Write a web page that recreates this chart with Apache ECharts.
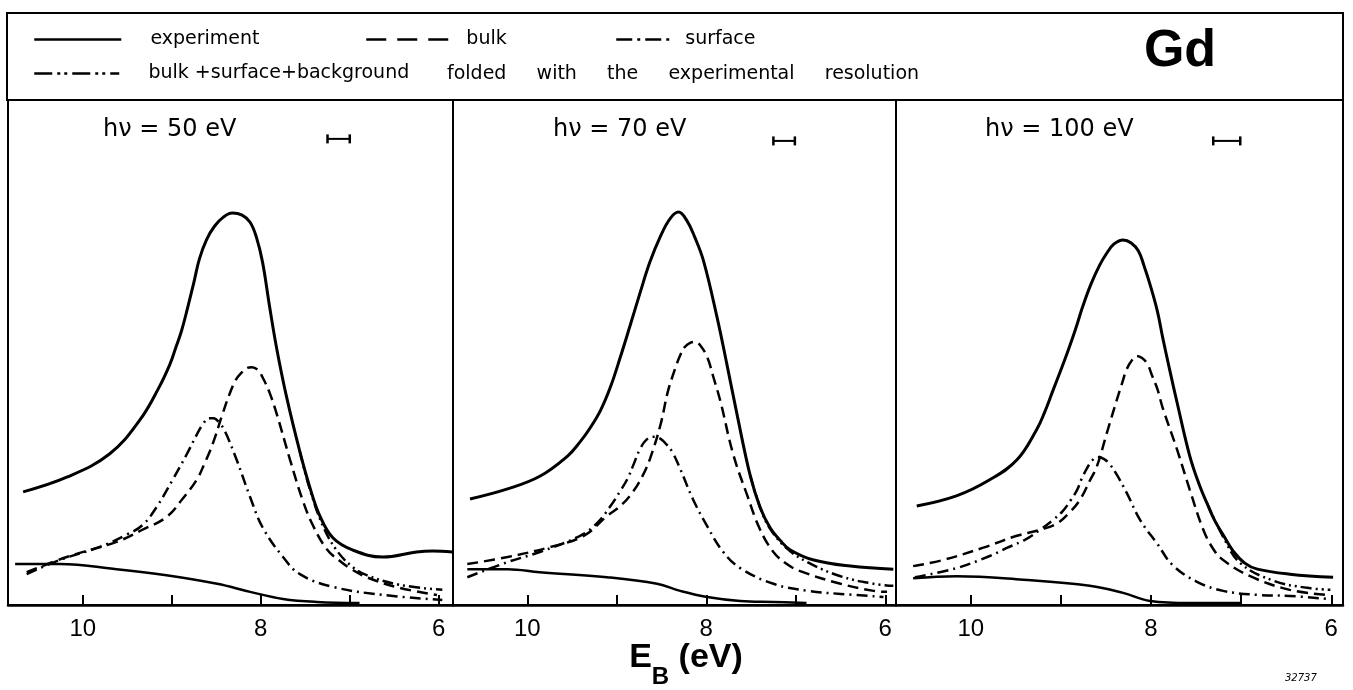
<!DOCTYPE html>
<html>
<head>
<meta charset="utf-8">
<script src="https://cdn.jsdelivr.net/npm/echarts@6/dist/echarts.min.js"></script>
<style>
  html, body { margin: 0; background: #fff; }
  #chart { width: 1353px; height: 690px; }
</style>
</head>
<body>
<div id="chart"></div>
<script>
// binding energy (eV) vs intensity (0 = axis, 100 = top of panel)
const photonLabels = ["h\u03bd = 50 eV", "h\u03bd = 70 eV", "h\u03bd = 100 eV"];
const tickMarks = [10, 9, 8, 7, 6];
const tickLabels = [10, 8, 6];

const exp50 = [[10.67,22.4],[10.18,25.3],[9.70,29.9],[9.36,36.6],[9.14,43.2],[9.02,47.7],[8.96,50.7],[8.89,54.3],[8.82,59.0],[8.75,64.0],[8.69,68.5],[8.61,72.3],[8.52,75.0],[8.42,76.8],[8.32,77.6],[8.21,77.2],[8.12,75.8],[8.05,72.9],[7.98,67.9],[7.90,59.0],[7.82,50.7],[7.71,41.2],[7.56,30.3],[7.45,23.4],[7.34,17.8],[7.19,13.3],[6.97,10.9],[6.63,9.5],[6.25,10.5],[6.07,10.7],[5.85,10.5]];
const bulk50 = [[10.63,6.5],[10.18,9.5],[9.62,12.5],[9.33,14.9],[9.06,17.4],[8.88,21.0],[8.72,24.8],[8.63,28.1],[8.54,31.9],[8.43,37.8],[8.35,41.8],[8.28,44.6],[8.21,46.1],[8.16,46.9],[8.10,47.1],[8.03,46.5],[7.98,45.1],[7.90,42.0],[7.82,37.8],[7.67,28.7],[7.53,20.8],[7.42,16.0],[7.26,11.1],[7.11,8.7],[7.00,7.3],[6.81,5.5],[6.44,3.4],[6.02,2.0]];
const surf50 = [[10.63,6.1],[10.26,8.9],[9.81,11.5],[9.51,13.9],[9.33,15.8],[9.17,19.4],[8.99,24.8],[8.83,29.9],[8.72,33.7],[8.65,35.8],[8.58,37.0],[8.53,37.0],[8.47,36.2],[8.40,34.3],[8.27,28.7],[8.12,21.4],[7.98,15.4],[7.75,9.5],[7.56,6.1],[7.19,3.6],[6.63,2.0],[5.96,1.0]];
const total50 = [[7.56,30.3],[7.45,23.0],[7.30,15.6],[7.15,10.9],[6.98,7.7],[6.81,5.9],[6.44,4.0],[5.96,3.0]];
const bg50 = [[10.76,8.1],[10.26,8.1],[9.62,7.1],[9.06,5.9],[8.49,4.2],[8.12,2.6],[7.75,1.2],[7.37,0.6],[6.89,0.4]];
const res50 = [[7.25,92.3],[7.00,92.3]];

const exp70 = [[10.64,21.0],[10.22,23.0],[9.86,25.5],[9.55,29.5],[9.41,32.3],[9.30,35.0],[9.18,38.6],[9.07,43.2],[8.96,49.1],[8.85,55.4],[8.74,61.8],[8.63,67.9],[8.51,73.1],[8.40,76.6],[8.31,77.8],[8.22,76.2],[8.13,72.9],[8.03,68.1],[7.88,57.0],[7.77,47.7],[7.65,37.2],[7.51,25.7],[7.40,19.4],[7.29,15.4],[7.17,12.7],[7.06,10.9],[6.80,8.9],[6.39,7.7],[5.91,7.1]];
const bulk70 = [[10.67,8.1],[10.22,9.5],[9.74,11.5],[9.37,13.7],[9.11,17.6],[8.96,19.6],[8.82,22.4],[8.72,25.3],[8.63,28.9],[8.51,35.8],[8.43,42.2],[8.35,46.7],[8.29,49.5],[8.24,51.1],[8.18,51.9],[8.12,52.1],[8.07,51.5],[7.99,49.1],[7.92,45.1],[7.84,40.2],[7.70,29.9],[7.54,21.6],[7.40,15.0],[7.25,10.5],[7.10,8.1],[6.95,6.7],[6.50,4.2],[6.13,2.8],[5.98,2.6]];
const surf70 = [[10.67,5.5],[10.22,8.5],[9.86,10.5],[9.41,13.7],[9.22,16.2],[9.07,19.6],[8.96,22.6],[8.88,25.0],[8.82,27.5],[8.74,30.9],[8.67,32.7],[8.59,33.3],[8.51,32.9],[8.45,31.9],[8.38,30.3],[8.29,26.9],[8.15,21.0],[7.99,15.6],[7.81,10.5],[7.62,7.3],[7.25,4.2],[6.87,2.8],[6.50,2.2],[6.02,1.6]];
const total70 = [[7.51,25.7],[7.40,19.4],[7.29,15.2],[7.10,11.2],[6.87,8.5],[6.50,5.7],[6.13,4.2],[5.91,3.8]];
const bg70 = [[10.67,7.1],[10.22,7.1],[9.86,6.5],[9.11,5.5],[8.55,4.2],[8.29,2.8],[7.99,1.6],[7.62,0.8],[7.25,0.6],[6.88,0.4]];
const res70 = [[7.25,91.9],[7.01,91.9]];

const exp100 = [[10.60,19.6],[10.16,21.6],[9.79,24.8],[9.49,28.7],[9.27,34.7],[9.18,38.2],[9.09,42.4],[9.01,46.1],[8.93,49.9],[8.84,54.5],[8.76,59.0],[8.67,63.4],[8.57,67.3],[8.49,69.7],[8.41,71.5],[8.31,72.3],[8.22,71.7],[8.14,70.1],[8.08,67.3],[8.01,63.4],[7.93,58.2],[7.87,52.9],[7.79,46.3],[7.71,40.0],[7.57,29.5],[7.46,23.6],[7.38,20.2],[7.29,16.6],[7.20,13.9],[7.09,10.7],[6.96,8.3],[6.82,7.1],[6.46,6.1],[5.98,5.5]];
const bulk100 = [[10.64,7.7],[10.31,8.9],[9.87,11.3],[9.49,13.7],[9.23,14.9],[9.04,16.2],[8.90,18.4],[8.79,20.8],[8.68,24.6],[8.60,27.5],[8.49,34.1],[8.38,40.6],[8.32,44.0],[8.27,46.7],[8.21,48.5],[8.16,49.3],[8.10,48.9],[8.04,47.7],[7.99,45.5],[7.93,42.8],[7.87,39.0],[7.71,30.7],[7.57,22.8],[7.42,14.9],[7.31,11.1],[7.20,8.9],[6.90,5.7],[6.46,3.0],[6.04,2.0]];
const surf100 = [[10.62,5.5],[10.16,7.3],[9.79,9.7],[9.60,11.3],[9.40,12.9],[9.23,14.9],[9.09,16.8],[8.98,18.6],[8.89,20.8],[8.82,22.8],[8.77,25.0],[8.71,27.1],[8.66,28.5],[8.59,29.3],[8.52,28.9],[8.46,27.9],[8.39,26.1],[8.27,22.2],[8.12,16.8],[7.93,12.1],[7.76,7.9],[7.49,4.6],[7.20,2.8],[6.82,2.0],[6.46,1.8],[6.04,1.2]];
const total100 = [[7.38,20.2],[7.20,13.5],[7.01,8.3],[6.64,4.8],[6.27,3.4],[6.01,3.0]];
const bg100 = [[10.64,5.3],[10.16,5.7],[9.42,5.0],[8.68,3.8],[8.31,2.4],[8.01,0.8],[7.57,0.4],[7.01,0.4]];
const res100 = [[7.31,91.9],[7.01,91.9]];

const panels = [
  { label: photonLabels[0], min: 5.84, max: 10.84, left: 8, width: 445, labelX: 103, exp: exp50, bulk: bulk50, surf: surf50, total: total50, bg: bg50, res: res50 },
  { label: photonLabels[1], min: 5.88, max: 10.83, left: 453, width: 443, labelX: 553, exp: exp70, bulk: bulk70, surf: surf70, total: total70, bg: bg70, res: res70 },
  { label: photonLabels[2], min: 5.87, max: 10.83, left: 896, width: 447, labelX: 985, exp: exp100, bulk: bulk100, surf: surf100, total: total100, bg: bg100, res: res100 },
];

const BLACK = "#000";
const styles = {
  experiment: { width: 3, type: "solid" },
  bulk: { width: 2.5, type: [11, 6] },
  surface: { width: 2.5, type: [11, 5, 2, 5] },
  total: { width: 2.5, type: [11, 4, 2, 4, 2, 4] },
  background: { width: 2.5, type: "solid" },
};

function curve(name, data, i, style) {
  return {
    type: "line", name, data, xAxisIndex: i, yAxisIndex: i,
    smooth: 0.4, symbol: "none", silent: true,
    lineStyle: { color: BLACK, width: style.width, type: style.type },
  };
}

const series = [];
panels.forEach((p, i) => {
  series.push(curve("background", p.bg, i, styles.background));
  series.push(curve("surface", p.surf, i, styles.surface));
  series.push(curve("bulk", p.bulk, i, styles.bulk));
  series.push(curve("total", p.total, i, styles.total));
  series.push(curve("experiment", p.exp, i, styles.experiment));
  series.push({
    type: "line", name: "resolution", data: p.res, xAxisIndex: i, yAxisIndex: i,
    symbol: "rect", symbolSize: [2.5, 9], silent: true,
    itemStyle: { color: BLACK }, lineStyle: { color: BLACK, width: 2 },
  });
});

const legendText = { fontFamily: "DejaVu Sans", fontSize: 19, color: BLACK };
function legendItem(name, left, top, width, dash, text) {
  return {
    data: [name], left, top, padding: 0, itemWidth: width, itemHeight: 20,
    selectedMode: false, textStyle: legendText,
    itemStyle: { opacity: 0 },
    lineStyle: { width: 2.5, type: dash, color: BLACK },
    formatter: () => text,
  };
}

const option = {
  animation: false,
  backgroundColor: "#fff",
  grid: panels.map(p => ({
    left: p.left, top: 100, width: p.width, height: 505,
    show: true, borderColor: BLACK, borderWidth: 2,
  })),
  xAxis: panels.map((p, i) => ({
    gridIndex: i, type: "value", inverse: true, min: p.min, max: p.max,
    axisLine: { show: true, onZero: false, lineStyle: { color: BLACK, width: 2.5 } },
    axisTick: { show: true, inside: true, length: 10, customValues: tickMarks, lineStyle: { color: BLACK, width: 2 } },
    axisLabel: { customValues: tickLabels, color: BLACK, fontSize: 24, fontFamily: "Liberation Sans", margin: 12 },
    splitLine: { show: false },
  })),
  yAxis: panels.map((p, i) => ({ gridIndex: i, type: "value", min: 0, max: 100, show: false })),
  legend: [
    legendItem("experiment", 33, 30, 87, "solid", "    experiment"),
    legendItem("bulk", 365, 30, 83, [20, 11], "  bulk"),
    legendItem("surface", 615, 30, 58, [16, 5, 3, 5], " surface"),
    legendItem("total", 33, 64, 85, [18, 5, 3, 4, 3, 5], "    bulk +surface+background"),
  ],
  graphic: [
    { type: "rect", shape: { x: 7, y: 13, width: 1336, height: 87 }, style: { fill: "none", stroke: BLACK, lineWidth: 2 } },
    { type: "text", x: 1180, y: 52, style: { text: "Gd", font: "bold 52px 'Liberation Sans'", fill: BLACK, align: "center", verticalAlign: "middle" } },
    { type: "text", x: 447, y: 74, style: { text: "folded     with     the     experimental     resolution", font: "19px 'DejaVu Sans'", fill: BLACK, verticalAlign: "middle" } },
    ...panels.map(p => ({ type: "text", x: p.labelX, y: 130, style: { text: p.label, font: "24px 'DejaVu Sans'", fill: BLACK, verticalAlign: "middle" } })),
    {
      type: "text", x: 686, y: 641,
      style: {
        text: "{a|E}{b|B}{a| (eV)}", align: "center", verticalAlign: "top",
        rich: {
          a: { fontSize: 34, fontWeight: "bold", fontFamily: "Liberation Sans", lineHeight: 48, verticalAlign: "top", fill: BLACK },
          b: { fontSize: 24, fontWeight: "bold", fontFamily: "Liberation Sans", lineHeight: 26, verticalAlign: "bottom", fill: BLACK },
        },
      },
    },
    { type: "text", x: 1285, y: 678, style: { text: "32737", font: "italic 10px 'DejaVu Sans'", fill: BLACK, verticalAlign: "middle" } },
  ],
  series,
};

const chart = echarts.init(document.getElementById("chart"));
chart.setOption(option);
</script>
</body>
</html>
